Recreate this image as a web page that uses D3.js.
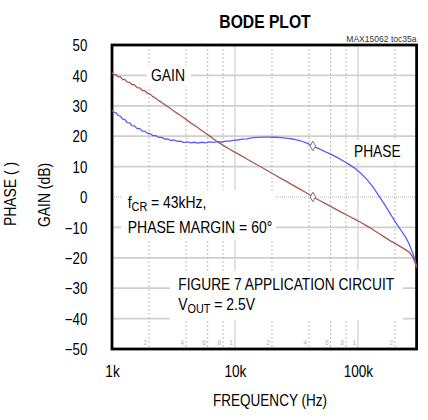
<!DOCTYPE html>
<html>
<head>
<meta charset="utf-8">
<script src="https://cdn.jsdelivr.net/npm/d3@7"></script>
<style>
  html, body { margin: 0; padding: 0; background: #fff; }
  svg { display: block; font-family: "Liberation Sans", Arial, sans-serif; }
</style>
</head>
<body>
<svg id="chart" width="428" height="420"></svg>
<script>
// Loop frequency (Hz)
const freq = [1000,1040,1080,1120,1170,1220,1270,1330,1390,1450,1520,1600,1680,1760,1850,1950,2050,2150,2270,2400,
  2550,2700,2850,3000,3200,3400,3600,3850,4100,4400,4700,5000,5400,5800,6200,6700,7200,7800,8400,9000,
  9700,10500,11500,12500,14000,15500,17000,19000,21000,24000,27000,30000,34000,38000,43000,48000,54000,60000,67000,75000,
  84000,94000,105000,118000,132000,148000,165000,185000,205000,225000,245000,262000,278000,290000,300000];

// Loop gain (dB)
const gainDb = [40.9,40.1,40.3,39.5,39.5,38.6,38.7,37.8,37.7,37.0,36.9,36.0,35.9,35.1,34.9,34.1,33.8,33.0,32.5,31.7,
  31.1,30.3,29.7,29.0,28.2,27.5,26.8,26.0,25.2,24.3,23.5,22.75,21.8,20.9,20.1,19.1,18.2,17.3,16.5,15.8,
  15.0,14.25,13.35,12.5,11.35,10.35,9.45,8.3,7.3,5.95,4.8,3.75,2.5,1.4,0,-1.0,-2.1,-3.1,-4.15,-5.2,
  -6.25,-7.3,-8.3,-9.5,-10.7,-12.0,-13.2,-14.5,-15.5,-16.5,-17.4,-18.2,-19.6,-21.3,-23.3];

// Loop phase, plotted on the same scale
const phaseDeg = [28.6,27.8,27.7,26.8,26.6,25.6,25.5,24.5,24.4,23.5,23.4,22.5,22.5,21.7,21.6,20.9,20.8,20.2,20.2,19.6,
  19.6,19.0,19.1,18.6,18.8,18.3,18.4,17.9,18.1,17.8,18.0,17.75,18.0,17.8,18.1,17.95,18.2,18.1,18.35,18.4,
  18.65,18.75,19.05,19.15,19.5,19.6,19.7,19.7,19.65,19.5,19.3,19.0,18.5,17.8,16.8,15.9,14.9,14.1,13.1,12.0,
  10.8,9.5,7.9,5.8,3.4,0.4,-2.5,-5.8,-8.7,-11.1,-13.3,-15.6,-18.3,-20.5,-22.8];

// Crossover frequency (Hz)
const crossoverHz = [43000];

// Axis ticks
const yTicks = [50,40,30,20,10,0,-10,-20,-30,-40,-50];
const xMajor = [1000,10000,100000];
const xMajorLabels = ["1k","10k","100k"];
const xMinor = [2000,4000,6000,8000,20000,40000,60000,80000,200000];
const xMinorLabels = ["2","4","6","8","2","4","6","8","2"];
const xDecadeMarks = [10000,100000];

const svg = d3.select("#chart");

const L = 112, R = 416.6, T = 45, B = 349;
const x = d3.scaleLog().domain([1000, 300000]).range([L, R]);
const y = d3.scaleLinear().domain([-50, 50]).range([B, T]);

// Condensed text helper
function label(g, str, px, py, opts) {
  const o = Object.assign({size: 16, sx: 0.86, anchor: "start", weight: "normal", fill: "#000", rotate: 0}, opts || {});
  const t = g.append("text")
    .attr("transform", `translate(${px},${py})` + (o.rotate ? ` rotate(${o.rotate})` : "") + ` scale(${o.sx},1)`)
    .attr("text-anchor", o.anchor)
    .attr("font-size", o.size)
    .attr("font-weight", o.weight)
    .attr("fill", o.fill);
  if (typeof str === "string") t.text(str);
  else str.forEach(p => {
    const s = t.append("tspan").text(p.t);
    if (p.sub) s.attr("font-size", o.size * 0.78).attr("dy", 3);
    if (p.up) s.attr("dy", -3);
  });
  return t;
}

// Grid
const grid = svg.append("g");
grid.selectAll("line.h").data(yTicks.filter(v => v !== 50 && v !== -50 && v !== 0)).join("line")
  .attr("x1", L).attr("x2", R).attr("y1", d => y(d)).attr("y2", d => y(d))
  .attr("stroke", "#cfcfcf").attr("stroke-width", 1.7);
grid.append("line")
  .attr("x1", L).attr("x2", R).attr("y1", y(0)).attr("y2", y(0))
  .attr("stroke", "#b0b0b0").attr("stroke-width", 1).attr("stroke-dasharray", "1,1");
grid.selectAll("line.vmaj").data(xDecadeMarks).join("line")
  .attr("x1", d => x(d)).attr("x2", d => x(d)).attr("y1", T).attr("y2", B)
  .attr("stroke", "#d2d2d2").attr("stroke-width", 1.3);
grid.selectAll("line.vmin").data(xMinor).join("line")
  .attr("x1", d => x(d)).attr("x2", d => x(d)).attr("y1", T).attr("y2", B)
  .attr("stroke", "#bababa").attr("stroke-width", 1).attr("stroke-dasharray", "2,2");

// Small multiplier labels along the bottom
const minorLab = svg.append("g");
xMinor.forEach((f, i) => label(minorLab, xMinorLabels[i], x(f) - 2, 345, {size: 7, sx: 0.9, anchor: "end", fill: "#b0b0b0"}));
xDecadeMarks.forEach(f => label(minorLab, "1", x(f) - 2, 345, {size: 7, sx: 0.9, anchor: "end", fill: "#b0b0b0"}));

// Annotation boxes
const boxes = svg.append("g").attr("fill", "#fff");
boxes.append("rect").attr("x", 147).attr("y", 66).attr("width", 44).attr("height", 20);
boxes.append("rect").attr("x", 347).attr("y", 140).attr("width", 62).attr("height", 22);
boxes.append("rect").attr("x", 121).attr("y", 190).attr("width", 155).attr("height", 50);
boxes.append("rect").attr("x", 170).attr("y", 271).attr("width", 233).attr("height", 49);

// Frame
svg.append("rect").attr("x", L).attr("y", T).attr("width", R - L).attr("height", B - T)
  .attr("fill", "none").attr("stroke", "#000").attr("stroke-width", 2.8);

// Curves
const rows = freq.map((f, i) => ({f, g: gainDb[i], p: phaseDeg[i]}));
const plot = svg.append("g");
plot.append("path").datum(rows)
  .attr("d", d3.line().x(d => x(d.f)).y(d => y(d.p)))
  .attr("fill", "none").attr("stroke", "#5b5cf2").attr("stroke-width", 1.3);
plot.append("path").datum(rows)
  .attr("d", d3.line().x(d => x(d.f)).y(d => y(d.g)))
  .attr("fill", "none").attr("stroke", "#a5594f").attr("stroke-width", 1.3);

// Crossover markers
const ci = freq.indexOf(crossoverHz[0]);
const diamond = d3.symbol().type(d3.symbolDiamond).size(26);
[[freq[ci], gainDb[ci]], [freq[ci], phaseDeg[ci]]].forEach(([f, v]) => {
  plot.append("path").attr("d", diamond)
    .attr("transform", `translate(${x(f)},${y(v)})`)
    .attr("fill", "#fff").attr("stroke", "#777").attr("stroke-width", 1);
});

// Y axis
const yAxis = svg.append("g").attr("transform", `translate(${L},0)`)
  .call(d3.axisLeft(y).tickValues(yTicks).tickSize(0).tickPadding(0).tickFormat(d3.format("d")));
yAxis.select(".domain").remove();
yAxis.selectAll("text")
  .attr("x", null).attr("dy", "0.36em")
  .attr("transform", "translate(-24.7,0) scale(0.83,1)")
  .attr("font-size", 16).attr("font-family", "Liberation Sans, Arial, sans-serif").attr("fill", "#000");

// X axis
const xAxis = svg.append("g").attr("transform", `translate(0,${B})`)
  .call(d3.axisBottom(x).tickValues(xMajor).tickSize(0).tickFormat((d, i) => xMajorLabels[i]));
xAxis.select(".domain").remove();
xAxis.selectAll("text")
  .attr("y", null).attr("dy", null)
  .attr("transform", "translate(0,28) scale(0.85,1)")
  .attr("font-size", 16).attr("font-family", "Liberation Sans, Arial, sans-serif").attr("fill", "#000");

// Titles and labels
const txt = svg.append("g");
label(txt, "BODE PLOT", 265, 28, {size: 18, weight: "bold", anchor: "middle", sx: 0.87});
label(txt, "MAX15062 toc35a", 416.6, 41.5, {size: 9.2, anchor: "end", sx: 0.93, fill: "#333"});
label(txt, "FREQUENCY (Hz)", 270, 406, {anchor: "middle", sx: 0.845});
label(txt, "GAIN (dB)", 50, 195, {anchor: "middle", rotate: -90, sx: 0.87});
label(txt, "PHASE ( )", 16, 194, {anchor: "middle", rotate: -90, sx: 0.87});
label(txt, "GAIN", 151, 81.3, {sx: 0.87});
label(txt, "PHASE", 354, 156.7, {sx: 0.86});
label(txt, [{t: "f"}, {t: "CR", sub: true}, {t: " = 43kHz,", up: true}], 127.7, 208, {sx: 0.87});
label(txt, "PHASE MARGIN = 60°", 127.7, 233.3, {sx: 0.877});
label(txt, "FIGURE 7 APPLICATION CIRCUIT", 178.3, 290, {sx: 0.86});
label(txt, [{t: "V"}, {t: "OUT", sub: true}, {t: " = 2.5V", up: true}], 178.3, 310, {sx: 0.87});
</script>
</body>
</html>
